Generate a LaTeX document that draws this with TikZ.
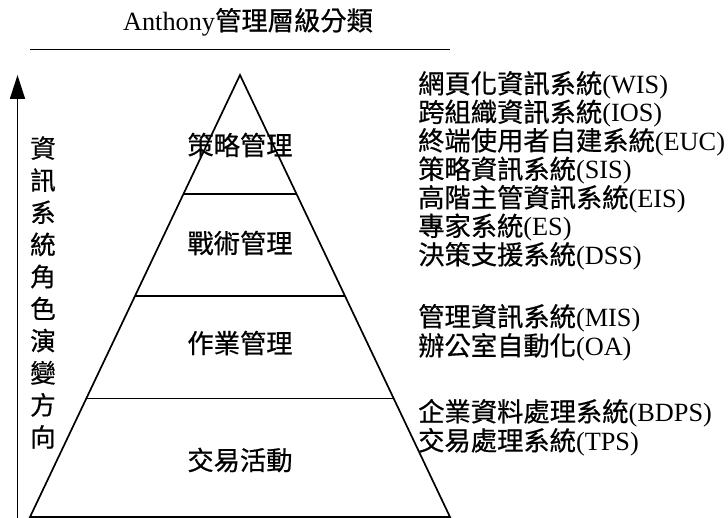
\documentclass[tikz,border=0pt]{standalone}
\usepackage{fontspec}
\setmainfont{Liberation Serif}
\newfontfamily\cjk[FakeBold=0.6]{Noto Sans CJK TC}
\usetikzlibrary{arrows.meta}
\tikzset{
  txt/.style={inner sep=0pt, font=\fontsize{26.3}{28}\selectfont},
  rtxt/.style={txt, anchor=west},
  ln/.style={line width=1.7pt},
}
\begin{document}
\begin{tikzpicture}[x=1pt,y=-1pt]
\useasboundingbox (0,0) rectangle (728,518);
% title
\node[txt] (title) at (248,22) {Anthony{\cjk 管理層級分類}};
\coordinate (r1) at (30,49.5);
\coordinate (r2) at (450,49.5);
\draw[ln] (r1) -- (r2);
% arrow
\coordinate (a1) at (17.5,518);
\coordinate (a2) at (17.5,75);
\draw[ln, -{Triangle[length=24pt,width=15pt]}] (a1) -- (a2);
% vertical text
\node[txt, align=center, font=\fontsize{25.5}{32.1}\selectfont\cjk] (vt) at (43,292.5)
  {資\\訊\\系\\統\\角\\色\\演\\變\\方\\向};
% pyramid
\coordinate (apex) at (240,75);
\coordinate (bl) at (30,517);
\coordinate (br) at (450,517);
\draw[ln, line join=miter] (apex) -- (bl) -- (br) -- cycle;
\coordinate (l1a) at (183.6,194); \coordinate (l1b) at (296.4,194);
\coordinate (l2a) at (135,296); \coordinate (l2b) at (345,296);
\coordinate (l3a) at (86.4,398.5); \coordinate (l3b) at (393.6,398.5);
\draw[ln] (l1a) -- (l1b);
\draw[ln] (l2a) -- (l2b);
\draw[ln] (l3a) -- (l3b);
% level labels
\node[txt] (s1) at (240,145) {\cjk 策略管理};
\node[txt] (s2) at (240,243) {\cjk 戰術管理};
\node[txt] (s3) at (240,343) {\cjk 作業管理};
\node[txt] (s4) at (240,460) {\cjk 交易活動};
% right texts
\node[rtxt] (t1) at (418,85) {{\cjk 網頁化資訊系統}(WIS)};
\node[rtxt] (t2) at (418,113.5) {{\cjk 跨組織資訊系統}(IOS)};
\node[rtxt] (t3) at (418,142) {{\cjk 終端使用者自建系統}(EUC)};
\node[rtxt] (t4) at (418,170.5) {{\cjk 策略資訊系統}(SIS)};
\node[rtxt] (t5) at (418,199) {{\cjk 高階主管資訊系統}(EIS)};
\node[rtxt] (t6) at (418,227.5) {{\cjk 專家系統}(ES)};
\node[rtxt] (t7) at (418,256) {{\cjk 決策支援系統}(DSS)};
\node[rtxt] (t8) at (418,318) {{\cjk 管理資訊系統}(MIS)};
\node[rtxt] (t9) at (418,347) {{\cjk 辦公室自動化}(OA)};
\node[rtxt] (t10) at (418,413) {{\cjk 企業資料處理系統}(BDPS)};
\node[rtxt] (t11) at (418,442) {{\cjk 交易處理系統}(TPS)};
\end{tikzpicture}
\end{document}
